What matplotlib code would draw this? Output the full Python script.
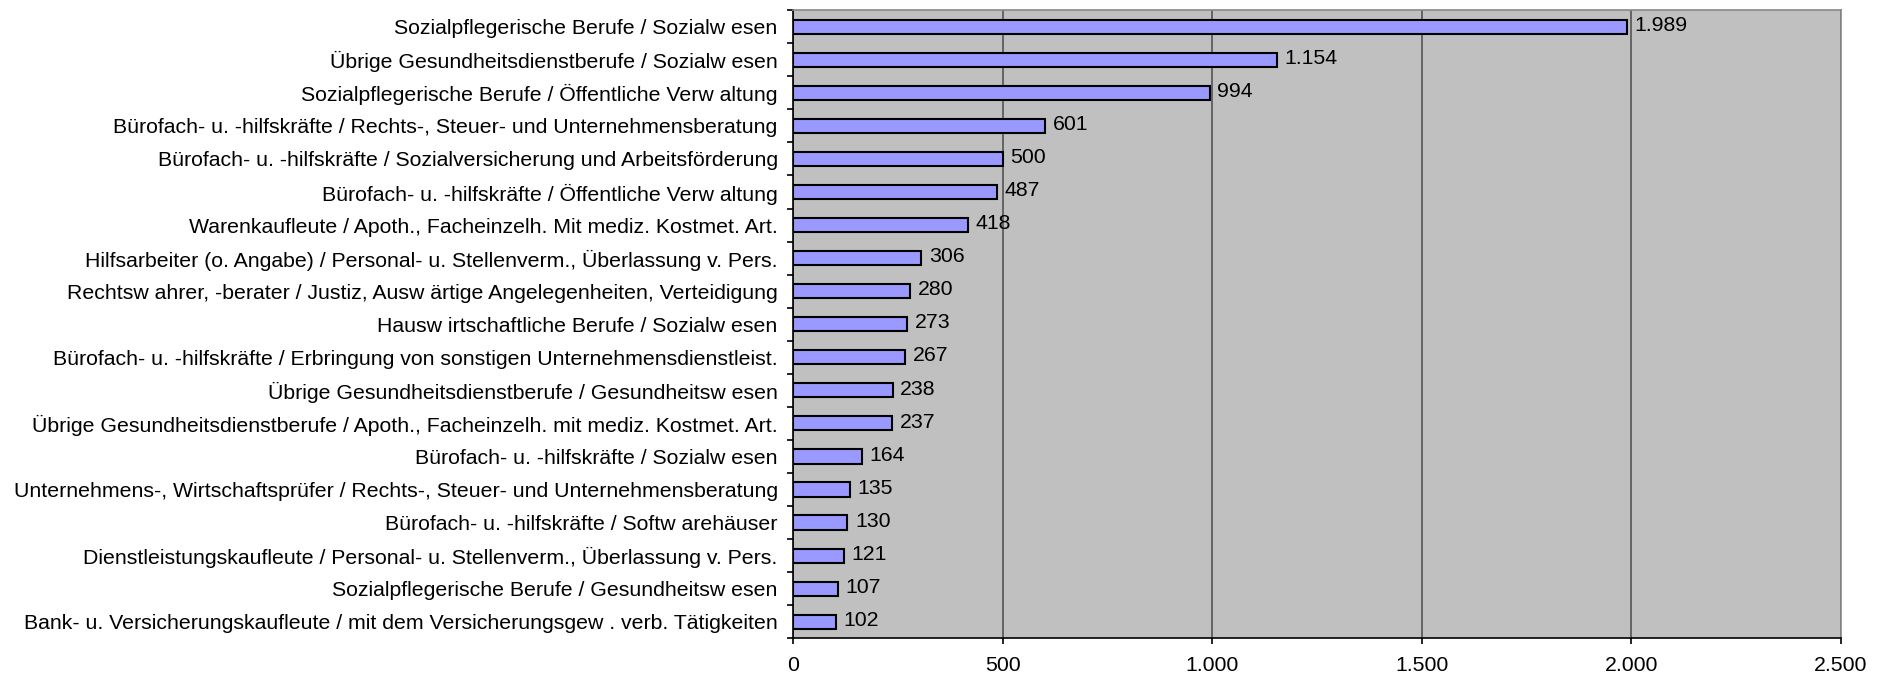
import matplotlib.pyplot as plt
from matplotlib.ticker import FuncFormatter, MultipleLocator

plt.rcParams["font.family"] = ["Liberation Sans", "DejaVu Sans"]

labels = [
    "Sozialpflegerische Berufe / Sozialw esen",
    "Übrige Gesundheitsdienstberufe / Sozialw esen",
    "Sozialpflegerische Berufe / Öffentliche Verw altung",
    "Bürofach- u. -hilfskräfte / Rechts-, Steuer- und Unternehmensberatung",
    "Bürofach- u. -hilfskräfte / Sozialversicherung und Arbeitsförderung",
    "Bürofach- u. -hilfskräfte / Öffentliche Verw altung",
    "Warenkaufleute / Apoth., Facheinzelh. Mit mediz. Kostmet. Art.",
    "Hilfsarbeiter (o. Angabe) / Personal- u. Stellenverm., Überlassung v. Pers.",
    "Rechtsw ahrer, -berater / Justiz, Ausw ärtige Angelegenheiten, Verteidigung",
    "Hausw irtschaftliche Berufe / Sozialw esen",
    "Bürofach- u. -hilfskräfte / Erbringung von sonstigen Unternehmensdienstleist.",
    "Übrige Gesundheitsdienstberufe / Gesundheitsw esen",
    "Übrige Gesundheitsdienstberufe / Apoth., Facheinzelh. mit mediz. Kostmet. Art.",
    "Bürofach- u. -hilfskräfte / Sozialw esen",
    "Unternehmens-, Wirtschaftsprüfer / Rechts-, Steuer- und Unternehmensberatung",
    "Bürofach- u. -hilfskräfte / Softw arehäuser",
    "Dienstleistungskaufleute / Personal- u. Stellenverm., Überlassung v. Pers.",
    "Sozialpflegerische Berufe / Gesundheitsw esen",
    "Bank- u. Versicherungskaufleute / mit dem Versicherungsgew . verb. Tätigkeiten",
]
values = [1989, 1154, 994, 601, 500, 487, 418, 306, 280, 273,
          267, 238, 237, 164, 135, 130, 121, 107, 102]

FS = 15.3


def de_num(v, pos=None):
    return f"{int(v):,}".replace(",", ".")


fig = plt.figure(figsize=(18.88, 6.79), dpi=100)
ax = fig.add_axes([0.42, 0.06, 0.555, 0.925])
ax.set_facecolor("#C0C0C0")

ypos = list(range(len(values)))
ax.barh(ypos, values, height=0.43, color="#9999FF", edgecolor="black",
        linewidth=1.5, zorder=3)
for y, v in zip(ypos, values):
    ax.text(v + 18, y - 0.04, de_num(v), va="center", ha="left",
            fontsize=FS, zorder=4)

ax.set_xlim(0, 2500)
ax.set_ylim(len(values) - 0.5, -0.5)
ax.xaxis.set_major_locator(MultipleLocator(500))
ax.xaxis.set_major_formatter(FuncFormatter(de_num))
ax.grid(axis="x", color="#555555", linewidth=1.2, zorder=1)

ax.set_yticks(ypos)
ax.set_yticklabels(labels, fontsize=FS)
ax.tick_params(axis="y", length=0, pad=11)
ax.set_yticks([y + 0.5 for y in [-1] + ypos], minor=True)
ax.tick_params(axis="y", which="minor", length=4.5, width=1.2, color="black")
ax.tick_params(axis="x", length=4.5, width=1.2, labelsize=FS, pad=8)

ax.spines["left"].set_color("black")
ax.spines["left"].set_linewidth(1.2)
ax.spines["bottom"].set_color("black")
ax.spines["bottom"].set_linewidth(1.2)
for s in ("top", "right"):
    ax.spines[s].set_color("#888888")
    ax.spines[s].set_linewidth(1.2)

fig.savefig("out.png", dpi=100)
